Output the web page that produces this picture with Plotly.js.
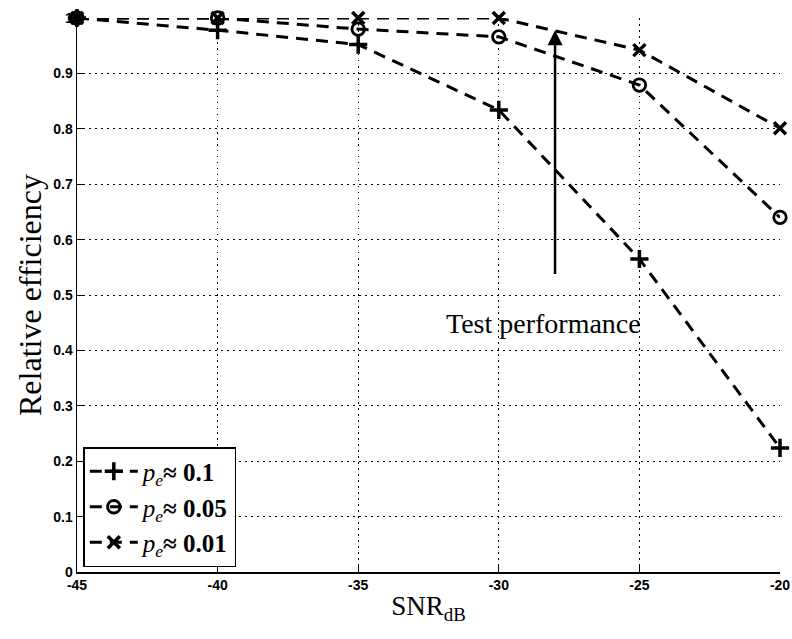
<!DOCTYPE html>
<html>
<head>
<meta charset="utf-8">
<script src="https://cdn.plot.ly/plotly-3.0.1.min.js"></script>
<style>
  html, body { margin: 0; padding: 0; background: #fff; }
  #chart { width: 792px; height: 639px; }
</style>
</head>
<body>
<div id="chart"></div>
<script>
// SNR values (dB) at which the relative efficiency was evaluated
const snrDb = [-45, -40, -35, -30, -25, -20];

// Relative efficiency for each error probability
const effPe010 = [1.0, 0.978, 0.952, 0.834, 0.565, 0.224];
const effPe005 = [1.0, 1.0, 0.980, 0.966, 0.879, 0.640];
const effPe001 = [1.0, 1.0, 1.0, 1.0, 0.942, 0.801];

const seriesNames = [
  '<i>p</i><sub><i>e</i></sub><b>\u2248 0.1</b>',
  '<i>p</i><sub><i>e</i></sub><b>\u2248 0.05</b>',
  '<i>p</i><sub><i>e</i></sub><b>\u2248 0.01</b>'
];

const yTicks = [0, 0.1, 0.2, 0.3, 0.4, 0.5, 0.6, 0.7, 0.8, 0.9, 1];
const yTickText = ['0', '0.1', '0.2', '0.3', '0.4', '0.5', '0.6', '0.7', '0.8', '0.9', '1'];

// Arrow pointing at the test performance curve
const arrowX = -28;
const arrowTailY = 0.535;
const arrowHeadY = 0.978;
const labelText = 'Test performance';
const labelX = -28.4;
const labelY = 0.448;

const serif = 'Liberation Serif, Times New Roman, serif';
const sansBold = 'Liberation Sans, Arial, sans-serif';
const dashPattern = '12px,8px';
const gridDash = '1.5px,4.5px';

function series(y, name, symbol, size, mlw) {
  return {
    x: snrDb, y: y, name: name, type: 'scatter', mode: 'lines+markers',
    cliponaxis: false,
    line: { color: '#000', width: 3, dash: dashPattern },
    marker: { symbol: symbol, size: size, color: '#000',
              line: { color: '#000', width: mlw } }
  };
}

const data = [
  series(effPe010, seriesNames[0], 'cross-thin-open', 13, 3.5),
  series(effPe005, seriesNames[1], 'circle-open', 12.5, 2.8),
  series(effPe001, seriesNames[2], 'x-thin-open', 12, 3.5)
];

const axisCommon = {
  showgrid: true, gridcolor: '#000', gridwidth: 1, griddash: gridDash,
  showline: true, linecolor: '#000', linewidth: 1.5, mirror: false,
  zeroline: false, ticks: 'inside', ticklen: 6, tickcolor: '#000',
  ticklabeloverflow: 'allow',
  tickfont: { family: sansBold, size: 14, color: '#000', weight: 'bold' }
};

const layout = {
  width: 792, height: 639,
  margin: { l: 77, r: 12, t: 18, b: 67 },
  paper_bgcolor: '#fff', plot_bgcolor: '#fff',
  showlegend: true,
  legend: {
    x: 0.009, y: 0.009, xanchor: 'left', yanchor: 'bottom',
    bgcolor: '#fff', bordercolor: '#000', borderwidth: 1.5,
    font: { family: serif, size: 25, color: '#000' },
    tracegroupgap: 0, itemwidth: 48
  },
  xaxis: Object.assign({}, axisCommon, {
    range: [-45, -20], tickvals: snrDb, ticktext: snrDb.map(String),
    title: { text: 'SNR<sub>dB</sub>', font: { family: serif, size: 27, color: '#000' }, standoff: 4 }
  }),
  yaxis: Object.assign({}, axisCommon, {
    range: [0, 1], tickvals: yTicks, ticktext: yTickText,
    title: { text: 'Relative efficiency', font: { family: serif, size: 32, color: '#000' }, standoff: 2 }
  }),
  annotations: [
    {
      x: arrowX, y: arrowHeadY, ax: arrowX, ay: arrowTailY,
      xref: 'x', yref: 'y', axref: 'x', ayref: 'y',
      showarrow: true, arrowhead: 2, arrowsize: 1.2, arrowwidth: 2.5,
      arrowcolor: '#000', text: ''
    },
    {
      x: labelX, y: labelY, xref: 'x', yref: 'y', showarrow: false,
      text: labelText, font: { family: serif, size: 28, color: '#000' }
    }
  ]
};

Plotly.newPlot('chart', data, layout, { displayModeBar: false, staticPlot: true });
</script>
</body>
</html>
